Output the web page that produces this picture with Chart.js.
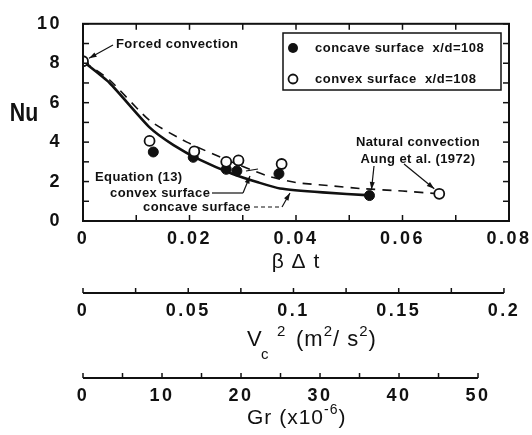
<!DOCTYPE html>
<html>
<head>
<meta charset="utf-8">
<script src="https://cdn.jsdelivr.net/npm/chart.js@4.4.1/dist/chart.umd.min.js"></script>
<style>
  html, body { margin: 0; padding: 0; background: #fff; }
  #wrap { width: 532px; height: 435px; }
</style>
</head>
<body>
<div id="wrap"><canvas id="nuChart" width="532" height="435"></canvas></div>
<script>
// measured points, beta*dt vs Nu
const concaveX  = [0.0132, 0.0207, 0.0269, 0.0289, 0.0368, 0.0538];
const concaveNu = [3.5, 3.23, 2.62, 2.54, 2.4, 1.29];
const convexX   = [0, 0.0125, 0.0209, 0.0269, 0.0292, 0.0373, 0.0669];
const convexNu  = [8.1, 4.06, 3.53, 3.0, 3.07, 2.89, 1.38];

// Equation (13) curves
const eqConcaveX  = [0, 0.005, 0.0125, 0.017, 0.022, 0.028, 0.033, 0.037, 0.045, 0.054];
const eqConcaveNu = [8.1, 7.0, 4.75, 3.85, 3.1, 2.4, 1.95, 1.65, 1.45, 1.3];
const eqConvexX   = [0, 0.005, 0.0125, 0.0195, 0.027, 0.0345, 0.04, 0.046, 0.052, 0.06, 0.0668];
const eqConvexNu  = [8.1, 7.15, 5.1, 4.0, 3.1, 2.3, 1.95, 1.8, 1.65, 1.52, 1.38];

// tick labels
const xTickLabels  = ['0', '0.02', '0.04', '0.06', '0.08'];
const nuTickLabels = ['0', '2', '4', '6', '8', '10'];
const vTickLabels  = ['0', '0.05', '0.1', '0.15', '0.2'];
const grTickLabels = ['0', '10', '20', '30', '40', '50'];

const FONT = '"Liberation Sans", Arial, Helvetica, sans-serif';
const INK = '#111';
Chart.defaults.font.family = FONT;
Chart.defaults.color = INK;

const toXY = (xs, ys) => xs.map((x, i) => ({ x: x, y: ys[i] }));

// label only every `step`, using the labels array
function labelAt(labels, step) {
    return function(v) {
        const i = Math.round(v / step);
        return Math.abs(v - i * step) < 1e-9 ? (labels[i] || '') : '';
    };
}

function line(ctx, x1, y1, x2, y2) {
    ctx.beginPath();
    ctx.moveTo(x1, y1);
    ctx.lineTo(x2, y2);
    ctx.stroke();
}

function arrow(ctx, x1, y1, x2, y2) {
    line(ctx, x1, y1, x2, y2);
    const a = Math.atan2(y2 - y1, x2 - x1);
    const len = 8, w = 0.32;
    ctx.beginPath();
    ctx.moveTo(x2, y2);
    ctx.lineTo(x2 - len * Math.cos(a - w), y2 - len * Math.sin(a - w));
    ctx.lineTo(x2 - len * Math.cos(a + w), y2 - len * Math.sin(a + w));
    ctx.closePath();
    ctx.fill();
}

// writes pieces of text one after another, [text, size, dy]
function runText(ctx, x, y, pieces) {
    pieces.forEach(p => {
        ctx.font = p[1] + 'px ' + FONT;
        ctx.fillText(p[0], x, y + p[2]);
        x += ctx.measureText(p[0]).width;
    });
}

const decorations = {
    id: 'decorations',
    beforeDraw(chart) {
        // spaced-out tick numbers like the scanned figure
        chart.ctx.letterSpacing = '2.5px';
    },
    afterDraw(chart) {
        const { ctx, chartArea: a, scales } = chart;
        const xs = scales.x, ys = scales.y;
        ctx.save();
        ctx.strokeStyle = INK;
        ctx.fillStyle = INK;
        ctx.letterSpacing = '1px';

        // frame with inward ticks
        ctx.lineWidth = 2;
        ctx.strokeRect(a.left, a.top, a.right - a.left, a.bottom - a.top);
        ctx.lineWidth = 1.5;
        xs.ticks.forEach(t => {
            const px = xs.getPixelForValue(t.value);
            line(ctx, px, a.bottom, px, a.bottom - 6);
            line(ctx, px, a.top, px, a.top + 6);
        });
        ys.ticks.forEach(t => {
            const py = ys.getPixelForValue(t.value);
            line(ctx, a.left, py, a.left + 6, py);
            line(ctx, a.right, py, a.right - 6, py);
        });

        // extra axes underneath
        ['x2', 'x3'].forEach(id => {
            const s = scales[id];
            const last = s.ticks[s.ticks.length - 1].value;
            ctx.lineWidth = 2;
            line(ctx, s.getPixelForValue(0), s.top, s.getPixelForValue(last), s.top);
            ctx.lineWidth = 1.5;
            s.ticks.forEach(t => {
                const px = s.getPixelForValue(t.value);
                line(ctx, px, s.top, px, s.top - 5);
            });
        });

        // axis titles
        ctx.textBaseline = 'middle';
        ctx.textAlign = 'center';
        ctx.font = '21px ' + FONT;
        ctx.fillText('β Δ t', (a.left + a.right) / 2, xs.bottom - 31);

        ctx.textAlign = 'left';
        const vy = scales.x2.bottom - 38;
        runText(ctx, 247, vy, [['V', 22, 0]]);
        runText(ctx, 261, vy, [['c', 15, 15]]);
        runText(ctx, 277, vy, [['2', 15, -8]]);
        runText(ctx, 296, vy, [['(m', 22, 0], ['2', 15, -8], ['/ s', 22, 0], ['2', 15, -8], [')', 22, 0]]);

        runText(ctx, 247, scales.x3.bottom - 17,
                [['Gr (x10', 21, 0], ['-6', 14, -8], [')', 21, 0]]);

        // Nu label, narrow and heavy as in the original
        ctx.save();
        ctx.translate(24, ys.getPixelForValue(5.45));
        ctx.scale(0.82, 1);
        ctx.font = 'bold 26px ' + FONT;
        ctx.textAlign = 'center';
        ctx.letterSpacing = '0px';
        ctx.fillText('Nu', 0, 0);
        ctx.restore();

        // legend box
        ctx.letterSpacing = '0.5px';
        ctx.lineWidth = 1.5;
        ctx.strokeRect(283, 33, 218, 57);
        ctx.font = 'bold 13px ' + FONT;
        ctx.textAlign = 'left';
        ctx.beginPath();
        ctx.arc(293, 48, 5, 0, Math.PI * 2);
        ctx.fill();
        ctx.fillText(chart.data.datasets[0].label, 315, 48);
        ctx.beginPath();
        ctx.arc(293, 79, 4.5, 0, Math.PI * 2);
        ctx.fillStyle = '#fff';
        ctx.fill();
        ctx.lineWidth = 1.8;
        ctx.stroke();
        ctx.fillStyle = INK;
        ctx.fillText(chart.data.datasets[1].label, 315, 79);

        // annotations
        ctx.letterSpacing = '0.4px';
        ctx.lineWidth = 1.2;
        ctx.fillText('Forced convection', 116, 44);
        arrow(ctx, 113, 45, xs.getPixelForValue(convexX[0]) + 6, ys.getPixelForValue(convexNu[0]) - 3);

        ctx.fillText('Equation (13)', 95, 177);
        ctx.fillText('convex surface', 110, 193);
        ctx.fillText('concave surface', 143, 207);
        line(ctx, 212, 193, 243, 193);
        arrow(ctx, 243, 193, 250, 176);
        line(ctx, 246, 171, 258, 169);
        ctx.setLineDash([4, 3]);
        line(ctx, 254, 207, 282, 207);
        ctx.setLineDash([]);
        arrow(ctx, 282, 207, 290, 193);

        ctx.textAlign = 'center';
        ctx.fillText('Natural convection', 418, 142);
        ctx.fillText('Aung et al. (1972)', 418, 159);
        const fx = xs.getPixelForValue(concaveX[5]), fy = ys.getPixelForValue(concaveNu[5]);
        arrow(ctx, 374, 166, fx + 2, fy - 6);
        const ox = xs.getPixelForValue(convexX[6]), oy = ys.getPixelForValue(convexNu[6]);
        arrow(ctx, 404, 164, ox - 5, oy - 5);
        ctx.restore();
    }
};

const tickFont = { size: 18, weight: 'bold' };

new Chart(document.getElementById('nuChart'), {
    type: 'scatter',
    data: {
        datasets: [
            {
                label: 'concave surface  x/d=108',
                data: toXY(concaveX, concaveNu),
                pointRadius: 5,
                pointBackgroundColor: INK,
                pointBorderColor: INK,
                order: 1
            },
            {
                label: 'convex surface  x/d=108',
                data: toXY(convexX, convexNu),
                pointRadius: 5,
                pointBorderWidth: 1.8,
                pointBackgroundColor: '#fff',
                pointBorderColor: INK,
                order: 0
            },
            {
                label: 'Eq. (13) concave',
                data: toXY(eqConcaveX, eqConcaveNu),
                showLine: true,
                pointRadius: 0,
                borderColor: INK,
                borderWidth: 2.6,
                tension: 0.2,
                order: 3
            },
            {
                label: 'Eq. (13) convex',
                data: toXY(eqConvexX, eqConvexNu),
                showLine: true,
                pointRadius: 0,
                borderColor: INK,
                borderWidth: 1.6,
                borderDash: [9, 7],
                tension: 0.2,
                order: 2
            }
        ]
    },
    options: {
        responsive: false,
        animation: false,
        layout: { padding: { left: 0, right: 23, top: 20, bottom: 0 } },
        plugins: {
            legend: { display: false },
            tooltip: { enabled: false }
        },
        scales: {
            x: {
                type: 'linear', position: 'bottom', weight: 0,
                min: 0, max: 0.08,
                grid: { display: false }, border: { display: false },
                ticks: { stepSize: 0.01, autoSkip: false, maxRotation: 0, padding: -1,
                         font: tickFont, callback: labelAt(xTickLabels, 0.02) },
                afterFit: s => { s.height = 72; }
            },
            x2: {
                type: 'linear', position: 'bottom', weight: 1,
                min: 0, max: 0.2024,
                grid: { display: false }, border: { display: false },
                ticks: { stepSize: 0.025, includeBounds: false, autoSkip: false, maxRotation: 0,
                         padding: -1, font: tickFont, callback: labelAt(vTickLabels, 0.05) },
                afterFit: s => { s.height = 85; }
            },
            x3: {
                type: 'linear', position: 'bottom', weight: 2,
                min: 0, max: 53.92,
                grid: { display: false }, border: { display: false },
                ticks: { stepSize: 5, includeBounds: false, autoSkip: false, maxRotation: 0,
                         padding: -1, font: tickFont, callback: labelAt(grTickLabels, 10) },
                afterFit: s => { s.height = 57; }
            },
            y: {
                min: 0, max: 10,
                grid: { display: false }, border: { display: false },
                ticks: { stepSize: 1, autoSkip: false, padding: 13, font: tickFont,
                         callback: labelAt(nuTickLabels, 2) },
                afterFit: s => { s.width = 83; }
            }
        }
    },
    plugins: [decorations]
});
</script>
</body>
</html>
